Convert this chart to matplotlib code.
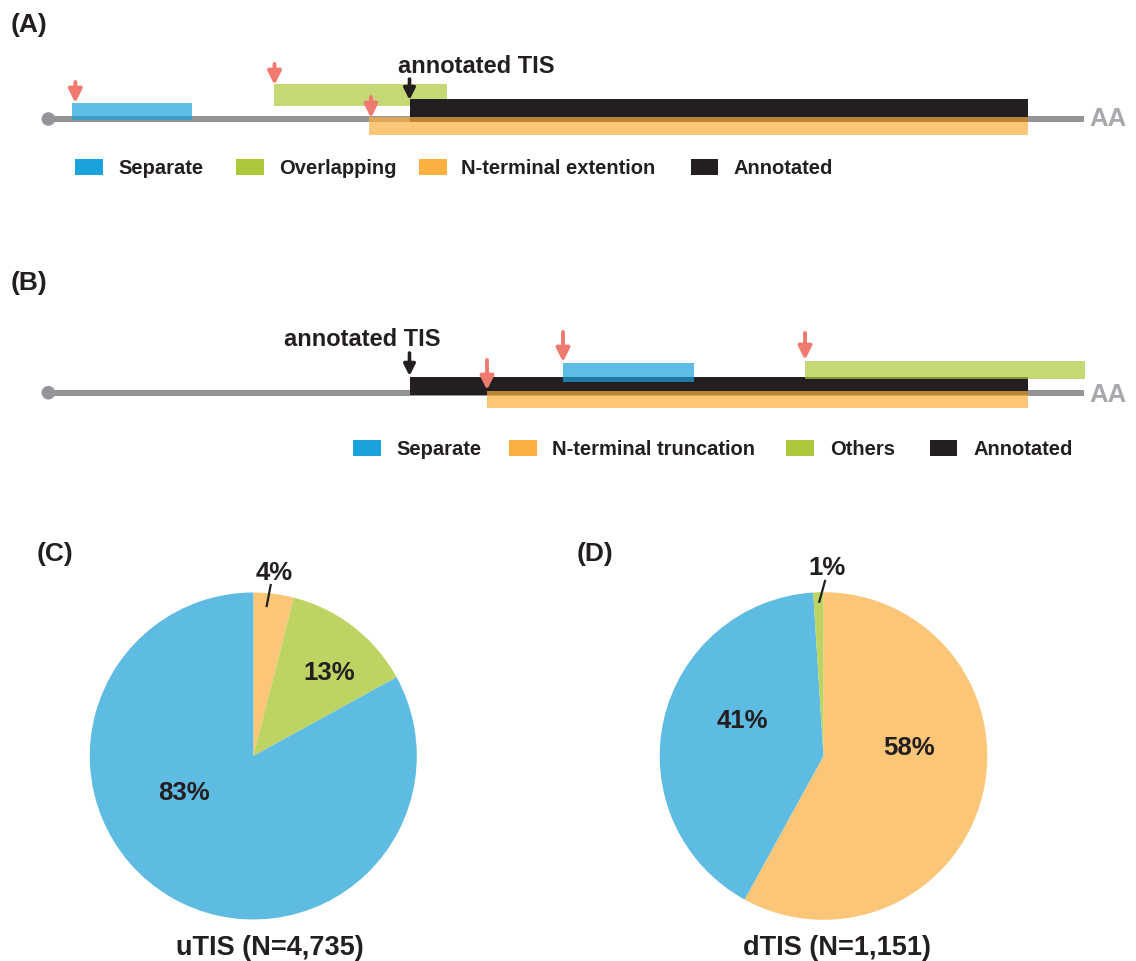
import matplotlib
matplotlib.use("Agg")
import matplotlib.pyplot as plt
from matplotlib.patches import Rectangle, Circle, FancyArrowPatch

plt.rcParams['font.family'] = ['Liberation Sans', 'DejaVu Sans']
plt.rcParams['font.weight'] = 'bold'

W, H = 1136, 961

INK = '#231f20'
GREY = '#939598'
AA_GREY = '#a7a9ac'
RED = '#f17a70'

# category colours (solid for the keys, alpha for the ORF bars)
key_colors = {'Separate': '#1ba1db', 'Overlapping': '#abc83b', 'Others': '#abc83b',
              'N-terminal extention': '#fbb040', 'N-terminal truncation': '#fbb040',
              'Annotated': INK}
pie_colors = {'Separate': '#5ebbe2', 'Overlapping': '#bdd462', 'Others': '#bdd462',
              'N-terminal extention': '#fbc677', 'N-terminal truncation': '#fbc677'}

# uTIS / dTIS class shares, clockwise from 12 o'clock
utis_kind = ['N-terminal extention', 'Overlapping', 'Separate']
utis_pct = [4, 13, 83]
dtis_kind = ['N-terminal truncation', 'Separate', 'Others']
dtis_pct = [58, 41, 1]

# schematic ORFs, canvas units (start, end, top, bottom), drawn in this order
a_kind = ['Separate', 'Overlapping', 'Annotated', 'N-terminal extention']
a_start = [71.5, 274, 409.5, 368.5]
a_end = [191.5, 446.5, 1028, 1028]
a_top = [103, 84, 99, 117]
a_bottom = [120, 106, 122, 135]

b_kind = ['Annotated', 'N-terminal truncation', 'Separate', 'Others']
b_start = [409.5, 487, 563, 805]
b_end = [1028, 1028, 694, 1085]
b_top = [376.5, 390.5, 363, 361]
b_bottom = [395, 408, 382, 379]

legend_a = ['Separate', 'Overlapping', 'N-terminal extention', 'Annotated']
legend_b = ['Separate', 'N-terminal truncation', 'Others', 'Annotated']

fig = plt.figure(figsize=(W / 100, H / 100), dpi=100)


def pie_axes(cx, cy, r):
    return fig.add_axes([(cx - r) / W, (H - cy - r) / H, 2 * r / W, 2 * r / H])


def draw_pie(ax, kinds, pct):
    ax.pie(pct, colors=[pie_colors[k] for k in kinds], startangle=90,
           counterclock=False, radius=1, wedgeprops=dict(linewidth=0))
    ax.set_xlim(-1, 1)
    ax.set_ylim(-1, 1)
    ax.set_aspect('equal')
    ax.axis('off')


draw_pie(pie_axes(253.3, 756, 163.5), utis_kind, utis_pct)
draw_pie(pie_axes(823.5, 756, 163.8), dtis_kind, dtis_pct)

# canvas axes on top for diagrams and all the text
ax = fig.add_axes([0, 0, 1, 1])
ax.set_xlim(0, W)
ax.set_ylim(H, 0)
ax.axis('off')
ax.set_zorder(3)
ax.patch.set_visible(False)


def arrow(x, tip, length, color, ms=20, lw=2.8):
    ax.add_patch(FancyArrowPatch((x, tip - length), (x, tip), arrowstyle='-|>',
                                 mutation_scale=ms, lw=lw, color=color,
                                 shrinkA=0, shrinkB=0, zorder=6))


def transcript(yc, labels_y):
    ax.add_patch(Rectangle((48, yc - 3), 1036, 6, color=GREY, lw=0, zorder=1))
    ax.add_patch(Circle((48.4, yc), 6.8, color=GREY, lw=0, zorder=1))
    ax.text(1089, labels_y, 'AA', color=AA_GREY, fontsize=18.5, va='baseline')


def orfs(kinds, starts, ends, tops, bottoms):
    for i, k in enumerate(kinds):
        alpha = 1.0 if k == 'Annotated' else 0.7
        ax.add_patch(Rectangle((starts[i], tops[i]), ends[i] - starts[i],
                               bottoms[i] - tops[i], color=key_colors[k],
                               alpha=alpha, lw=0, zorder=2 + i))


def key(items, sw_x, tx_x, y_top):
    for k, sx, tx in zip(items, sw_x, tx_x):
        ax.add_patch(Rectangle((sx, y_top), 27.6, 15.5, color=key_colors[k], lw=0))
        ax.text(tx, y_top + 15.2, k, color=INK, fontsize=14.5, va='baseline')


# (A) upstream TIS classes
ax.text(10.5, 32, '(A)', color=INK, fontsize=19, va='baseline')
transcript(119, 126)
orfs(a_kind, a_start, a_end, a_top, a_bottom)
for x, tip in zip([75.3, 274.5, 371], [103, 85, 118]):
    arrow(x, tip, 21, RED)
arrow(409.5, 100, 21, INK, ms=17, lw=2.6)
ax.text(398, 73, 'annotated TIS', color=INK, fontsize=17, va='baseline')
key(legend_a, [75, 236, 419, 690.5], [118.5, 279, 461, 734], 159)

# (B) downstream TIS classes
ax.text(10.5, 290, '(B)', color=INK, fontsize=19, va='baseline')
transcript(392.7, 401.5)
orfs(b_kind, b_start, b_end, b_top, b_bottom)
for x, tip, ln in zip([487, 563, 805], [390, 362, 360], [30, 30, 27]):
    arrow(x, tip, ln, RED)
arrow(409.5, 376, 23, INK, ms=17, lw=2.6)
ax.text(284, 346, 'annotated TIS', color=INK, fontsize=17, va='baseline')
key(legend_b, [353, 509, 786, 929.5], [396, 552, 830, 973], 440)

# (C) / (D) pie annotations
ax.text(37, 561.5, '(C)', color=INK, fontsize=19, va='baseline')
ax.text(577, 561.5, '(D)', color=INK, fontsize=19, va='baseline')

pct_x_c = [274.5, 329, 184]
pct_y_c = [580, 680.5, 800]
for p, x, y in zip(utis_pct, pct_x_c, pct_y_c):
    ax.text(x, y, f'{p}%', color=INK, fontsize=18.5, ha='center', va='baseline')
pct_x_d = [908.5, 742.5, 827.5]
pct_y_d = [755, 728, 575]
for p, x, y in zip(dtis_pct, pct_x_d, pct_y_d):
    ax.text(x, y, f'{p}%', color=INK, fontsize=18.5, ha='center', va='baseline')

ax.plot([270.7, 266.7], [585, 606], color=INK, lw=1.6)
ax.plot([825, 819.3], [581, 601.7], color=INK, lw=1.6)

ax.text(270, 955, 'uTIS (N=4,735)', color=INK, fontsize=19.5, ha='center', va='baseline')
ax.text(837, 955, 'dTIS (N=1,151)', color=INK, fontsize=19.5, ha='center', va='baseline')

fig.savefig('out.png', dpi=100)
